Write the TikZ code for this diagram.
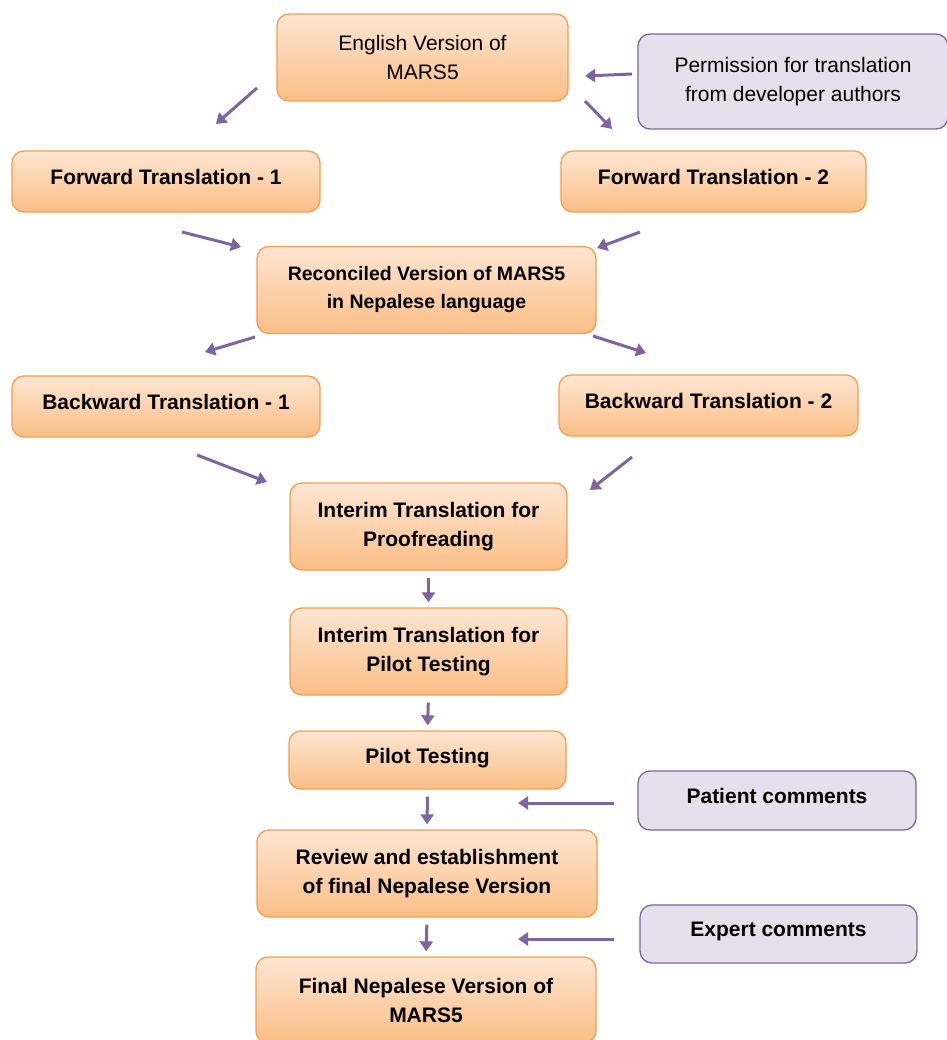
\documentclass[tikz,border=0pt]{standalone}
\usepackage{fontspec}
\setmainfont{Liberation Sans}
\usetikzlibrary{arrows.meta}
\definecolor{boxline}{HTML}{F59D4E}
\definecolor{boxtop}{HTML}{FDE6D2}
\definecolor{boxbot}{HTML}{FBBE86}
\definecolor{lilac}{HTML}{E5E0EC}
\definecolor{plum}{HTML}{8064A2}
\tikzset{
	stage/.style = {draw=boxline, line width=1.3pt, rounded corners=12pt, top color=boxtop, bottom color=boxbot, align=center, font=\fontsize{21}{29}\selectfont\bfseries, inner sep=0pt},
	source/.style = {draw=plum, line width=1.3pt, rounded corners=12pt, fill=lilac, align=center, font=\fontsize{21}{29}\selectfont\bfseries, inner sep=0pt},
	oneline/.style = {text depth=9pt},
	flow/.style = {draw=plum, line width=3pt, -{Triangle[length=10pt,width=13pt]}}
}

\begin{document}
\begin{tikzpicture}[x=1pt, y=-1pt]
		\useasboundingbox (0,0) rectangle (946,1040);
		\node[stage, minimum width=291pt, minimum height=87pt, font=\fontsize{21}{29}\selectfont] (english) at (422.5,57.5) {English Version of\\MARS5};
		\node[source, minimum width=310pt, minimum height=95pt, font=\fontsize{21}{29}\selectfont] (permission) at (793,81.5) {Permission for translation\\from developer authors};
		\node[stage, oneline, minimum width=308pt, minimum height=61pt] (fwdone) at (166,181.5) {Forward Translation - 1};
		\node[stage, oneline, minimum width=305pt, minimum height=61pt] (fwdtwo) at (713.5,181.5) {Forward Translation - 2};
		\node[stage, minimum width=339pt, minimum height=87pt, font=\fontsize{19.5}{28}\selectfont\bfseries] (reconciled) at (426.5,290) {Reconciled Version of MARS5\\in Nepalese language};
		\node[stage, oneline, minimum width=308pt, minimum height=61pt] (backone) at (166,406.5) {Backward Translation - 1};
		\node[stage, oneline, minimum width=299pt, minimum height=61pt] (backtwo) at (708.5,405.5) {Backward Translation - 2};
		\node[stage, minimum width=277pt, minimum height=87pt] (proof) at (428.5,526.5) {Interim Translation for\\Proofreading};
		\node[stage, minimum width=277pt, minimum height=87pt] (interimpilot) at (428.5,651.5) {Interim Translation for\\Pilot Testing};
		\node[stage, oneline, minimum width=277pt, minimum height=58pt] (pilot) at (427.5,760) {Pilot Testing};
		\node[source, oneline, minimum width=278pt, minimum height=59pt] (patient) at (777,800.5) {Patient comments};
		\node[stage, minimum width=340pt, minimum height=87pt] (review) at (427,873.5) {Review and establishment\\of final Nepalese Version};
		\node[source, oneline, minimum width=277pt, minimum height=58pt] (expert) at (778.5,934) {Expert comments};
		\node[stage, minimum width=340pt, minimum height=86pt] (final) at (426,1000) {Final Nepalese Version of\\MARS5};
		% arrow ends sit apart from the boxes
		\coordinate (a1) at (257,88);  \coordinate (b1) at (216,124);
		\coordinate (a2) at (632,74);  \coordinate (b2) at (585,76);
		\coordinate (a3) at (585,101); \coordinate (b3) at (612,129);
		\coordinate (a4) at (182,232); \coordinate (b4) at (241,247);
		\coordinate (a5) at (640,232); \coordinate (b5) at (597,248);
		\coordinate (a6) at (255,337); \coordinate (b6) at (205,352);
		\coordinate (a7) at (593,336); \coordinate (b7) at (646,353);
		\coordinate (a8) at (197,455); \coordinate (b8) at (267,482);
		\coordinate (a9) at (632,457); \coordinate (b9) at (590,490);
		\coordinate (a10) at (614,803); \coordinate (b10) at (518,803);
		\coordinate (a11) at (614,939); \coordinate (b11) at (518,939);
		\foreach \i in {1,...,11}
			\draw[flow] (a\i) -- (b\i);
		\foreach \u/\v in {proof/interimpilot, interimpilot/pilot, pilot/review, review/final}
			\draw[flow, shorten <=7pt, shorten >=5pt] (\u.south) -- (\v.north);
	\end{tikzpicture}
\end{document}
